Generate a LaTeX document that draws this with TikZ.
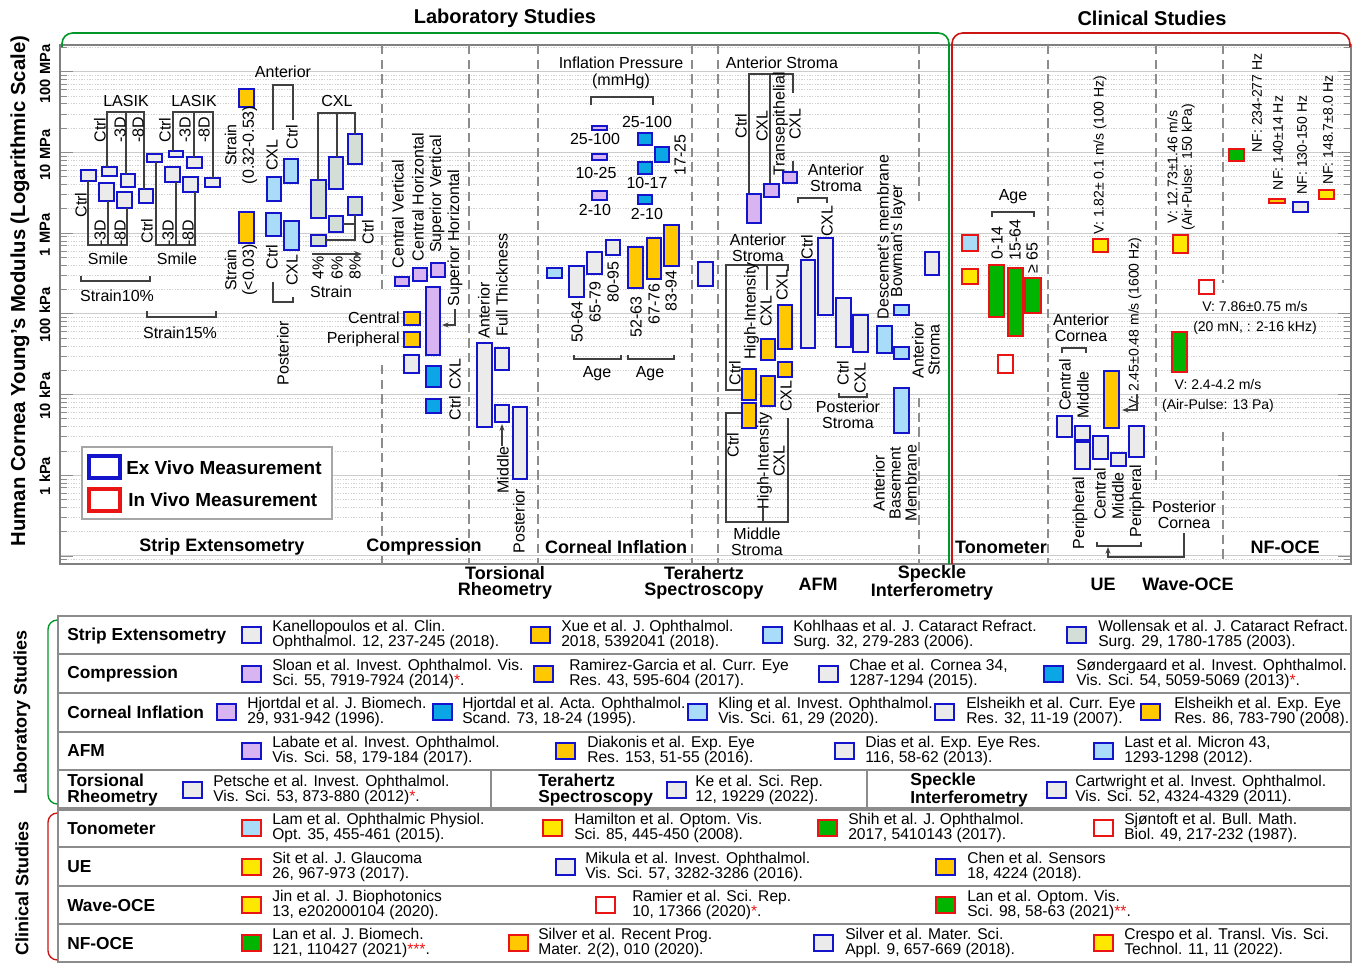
\documentclass[tikz,border=0pt]{standalone}
\usepackage{fontspec}
\setmainfont{Liberation Sans}
\usetikzlibrary{arrows.meta}
\definecolor{bblue}{RGB}{20,20,205}
\definecolor{rred}{RGB}{235,20,20}
\definecolor{cgray}{RGB}{235,235,235}
\definecolor{cgold}{RGB}{255,200,0}
\definecolor{clblue}{RGB}{168,220,248}
\definecolor{cgg}{RGB}{210,222,214}
\definecolor{clav}{RGB}{216,180,242}
\definecolor{cbb}{RGB}{10,166,230}
\definecolor{cgreen}{RGB}{0,180,0}
\definecolor{cyel}{RGB}{255,232,0}
\definecolor{labgreen}{RGB}{0,150,40}
\definecolor{clired}{RGB}{205,20,20}
\newcommand\bx[5]{\draw[#1] (#2,#3) rectangle (#4,#5);}
\newcommand\rl[4][]{\node[lbl,rotate=90,#1] (#2) at (#3) {#4};}
\newcommand\hl[4][]{\node[lbl,#1] (#2) at (#3) {#4};}
\newcommand\rs[1]{\textcolor{rred}{#1}}
\newcommand\ent[5]{\draw[#1] (#2,#3-8) rectangle (#2+19,#3+8); \node[ttx] (e#2x#3) at (#4,#3) {#5};}
\tikzset{
 gb/.style={draw=bblue,fill=cgray,line width=1.5pt},
 yb/.style={draw=bblue,fill=cgold,line width=1.5pt},
 lb/.style={draw=bblue,fill=clblue,line width=1.5pt},
 ggb/.style={draw=bblue,fill=cgg,line width=1.5pt},
 lvb/.style={draw=bblue,fill=clav,line width=1.5pt},
 bbb/.style={draw=bblue,fill=cbb,line width=1.5pt},
 lr/.style={draw=rred,fill=clblue,line width=1.5pt},
 yr/.style={draw=rred,fill=cyel,line width=1.5pt},
 grr/.style={draw=rred,fill=cgreen,line width=1.5pt},
 er/.style={draw=rred,fill=white,line width=1.5pt},
 orr/.style={draw=rred,fill=cgold,line width=1.5pt},
 lbl/.style={font=\fontsize{12}{13}\selectfont, inner sep=0pt, align=center},
 sml/.style={font=\fontsize{10.5}{12}\selectfont, inner sep=0pt, align=center},
 tny/.style={font=\fontsize{10.5}{11}\selectfont, inner sep=0pt},
 cat/.style={font=\fontsize{13.5}{12}\selectfont\bfseries, inner sep=0pt, align=center},
 tkl/.style={font=\fontsize{11}{12}\selectfont\bfseries, inner sep=0pt, rotate=90},
 brk/.style={draw=black!75, line width=0.8pt},
 dsh/.style={draw=black!45, line width=0.8pt, dash pattern=on 7pt off 4pt},
 mgrid/.style={draw=black!20, line width=0.7pt},
 ngrid/.style={draw=black!18, line width=0.5pt, dash pattern=on 1pt off 1pt},
 tck/.style={draw=black!45, line width=0.6pt},
 tline/.style={draw=black!45, line width=1.2pt},
 ttx/.style={font=\fontsize{11.7}{11.2}\selectfont, inner sep=0pt, anchor=west, align=left},
 rlab/.style={font=\fontsize{13}{11.5}\selectfont\bfseries, inner sep=0pt, anchor=west, align=left},
}
\begin{document}
\begin{tikzpicture}[x=0.75pt,y=-0.75pt]
\useasboundingbox (0,0) rectangle (1356,964);
% ---------------- grid
\begin{scope}
\clip (60,45) rectangle (1351,564);
\foreach \d in {1,...,8}{
 \pgfmathsetmacro\yd{475.2-(\d-3)*80.7}
 \draw[mgrid] (60,\yd) -- (1351,\yd);
 \draw[tck] (60,\yd) -- (73,\yd) (1338,\yd) -- (1351,\yd);
 \foreach \m in {2,...,9}{
  \pgfmathsetmacro\ym{\yd-log10(\m)*80.7}
  \draw[ngrid] (60,\ym) -- (1351,\ym);
  \draw[tck] (60,\ym) -- (67,\ym) (1344,\ym) -- (1351,\ym);
 }
}
\end{scope}
\draw[black!50, line width=0.9pt] (60,45) rectangle (1351,564);
% dashed separators
\draw[dsh] (382,45) -- (382,293) (382,365) -- (382,564);
\draw[dsh] (469,45) -- (469,564);
\draw[dsh] (538,45) -- (538,564);
\draw[dsh] (692,45) -- (692,564);
\draw[dsh] (718,45) -- (718,564);
\draw[dsh] (919,45) -- (919,205) (919,398) -- (919,564);
\draw[dsh] (1048,45) -- (1048,564);
\draw[dsh] (1156,45) -- (1156,482);
\draw[dsh] (1223,45) -- (1223,283) (1223,432) -- (1223,564);
% headers
\node[font=\fontsize{15}{17}\selectfont\bfseries, inner sep=0pt] (lab) at (505,18) {Laboratory Studies};
\node[font=\fontsize{15}{17}\selectfont\bfseries, inner sep=0pt] (cli) at (1152,18) {Clinical Studies};
\draw[labgreen, line width=1.2pt, rounded corners=8pt] (62,47) -- (62,33) -- (949,33) -- (949,564);
\draw[clired, line width=1.2pt, rounded corners=8pt] (952,564) -- (952,33) -- (1350,33) -- (1350,47);
% axis
\node[rotate=90, font=\fontsize{15.2}{17}\selectfont\bfseries, inner sep=0pt] (ytitle) at (20,291) {Human Cornea Young’s Modulus (Logarithmic Scale)};
\node[tkl] (k1) at (45,74) {100 MPa};
\node[tkl] (k2) at (45,155) {10 MPa};
\node[tkl] (k3) at (45,235) {1 MPa};
\node[tkl] (k4) at (45,315) {100 kPa};
\node[tkl] (k5) at (45,396) {10 kPa};
\node[tkl] (k6) at (45,476) {1 kPa};
% legend
\draw[draw=black!35, line width=1.6pt, fill=white] (82,447) rectangle (332,519);
\draw[bblue, line width=2.4pt] (89,456) rectangle (120,478);
\draw[rred, line width=2.4pt] (89,489) rectangle (120,511);
\node[font=\fontsize{14.2}{16}\selectfont\bfseries, inner sep=0pt, anchor=west] (lg1) at (126,468) {Ex Vivo Measurement};
\node[font=\fontsize{14.2}{16}\selectfont\bfseries, inner sep=0pt, anchor=west] (lg2) at (128,500) {In Vivo Measurement};
% category labels
\node[cat] (c1) at (222,547) {Strip Extensometry};
\node[cat] (c2) at (424,547) {Compression};
\node[cat] (c3) at (616,547) {Corneal Inflation};
\node[cat] (c4) at (1001,547) {Tonometer};
\node[cat] (c5) at (1285,547) {NF-OCE};
\node[cat] (c6) at (505,583) {Torsional\\Rheometry};
\node[cat] (c7) at (704,583) {Terahertz\\Spectroscopy};
\node[cat] (c8) at (818,584) {AFM};
\node[cat] (c9) at (932,583) {Speckle\\Interferometry};
\node[cat] (c10) at (1103,584) {UE};
\node[cat] (c11) at (1188,584) {Wave-OCE};
% ---------------- Strip extensometry
\bx{gb}{81}{170}{96}{181}
\bx{gb}{102}{167}{117}{176}
\bx{gb}{99}{183}{114}{201}
\bx{gb}{121}{174}{135}{187}
\bx{gb}{117}{192}{132}{208}
\bx{gb}{139}{189}{153}{203}
\bx{gb}{147}{154}{162}{162}
\bx{gb}{169}{151}{183}{157}
\bx{gb}{165}{167}{180}{182}
\bx{gb}{187}{157}{202}{168}
\bx{gb}{183}{177}{198}{192}
\bx{gb}{205}{178}{220}{187}
\draw[brk] (107,167)--(107,112)--(144,112)--(144,189) (126,112)--(126,174);
\draw[brk] (173,151)--(173,112)--(213,112)--(213,178) (194,112)--(194,157);
\draw[brk] (88,181)--(88,245)--(127,245)--(127,208) (108,201)--(108,245);
\draw[brk] (156,162)--(156,245)--(195,245)--(195,192) (176,182)--(176,245);
\draw[brk] (81,276)--(81,281)--(150,281)--(150,276);
\draw[brk] (147,311)--(147,317)--(216,317)--(216,311);
\hl{s1}{126,101}{LASIK}
\hl{s2}{194,101}{LASIK}
\hl{s3}{108,259}{Smile}
\hl{s4}{177,259}{Smile}
\hl{s5}{117,296}{Strain10\%}
\hl{s6}{180,333}{Strain15\%}
\rl{s7}{100,130}{Ctrl}
\rl{s8}{120,130}{-3D}
\rl{s9}{138,130}{-8D}
\rl{s10}{165,130}{Ctrl}
\rl{s11}{185,130}{-3D}
\rl{s12}{204,130}{-8D}
\rl{s13}{81,205}{Ctrl}
\rl{s14}{100,233}{-3D}
\rl{s15}{120,233}{-8D}
\rl{s16}{147,231}{Ctrl}
\rl{s17}{168,233}{-3D}
\rl{s18}{188,233}{-8D}
% Xue
\bx{yb}{239}{89}{254}{107}
\bx{yb}{239}{212}{254}{243}
\rl{x1}{241,145}{Strain\\(0.32-0.53)}
\rl{x2}{241,270}{Strain\\(<0.03)}
% Kohlhaas
\bx{lb}{267}{177}{281}{201}
\bx{lb}{284}{159}{298}{183}
\bx{lb}{266}{213}{281}{236}
\bx{lb}{284}{221}{299}{250}
\draw[brk] (273,130)--(273,85)--(293,85)--(293,120);
\draw[brk] (273,282)--(273,302)--(293,302)--(293,297);
\hl{k7}{283,72}{Anterior}
\rl{k8}{272,155}{CXL}
\rl{k9}{292,137}{Ctrl}
\rl{k10}{272,257}{Ctrl}
\rl{k11}{292,270}{CXL}
\rl{k12}{283,353}{Posterior}
% Wollensak
\bx{ggb}{311}{180}{326}{218}
\bx{ggb}{329}{157}{343}{189}
\bx{ggb}{348}{134}{362}{164}
\bx{ggb}{311}{235}{326}{246}
\bx{ggb}{329}{216}{343}{232}
\bx{ggb}{348}{197}{362}{215}
\draw[brk] (318,180)--(318,113)--(355,113)--(355,134) (337,113)--(337,157);
\draw[brk] (326,240)--(355,240)--(355,215) (343,224)--(355,224);
\draw[brk,-{Stealth[length=6pt]}] (312,254)--(362,254);
\hl{w1}{337,101}{CXL}
\rl{w2}{368,232}{Ctrl}
\rl{w3}{318,268}{4\%}
\rl{w4}{337,268}{6\%}
\rl{w5}{355,268}{8\%}
\hl{w6}{331,292}{Strain}
% ---------------- Compression
\bx{lvb}{395}{277}{409}{286}
\bx{lvb}{413}{268}{427}{281}
\bx{lvb}{431}{263}{445}{277}
\bx{lvb}{426}{287}{440}{355}
\bx{yb}{404}{312}{420}{325}
\bx{yb}{404}{332}{420}{347}
\bx{gb}{404}{355}{419}{373}
\bx{bbb}{426}{366}{441}{387}
\bx{bbb}{426}{399}{441}{413}
\rl{p1}{398,214}{Central Vertical}
\rl{p2}{418,197}{Central Horizontal}
\rl{p3}{437,194}{Superior Vertical}
\rl{p4}{455,238}{Superior Horizontal}
\draw[brk,-{Stealth[length=5pt]}] (455,309)--(455,325)--(442,325);
\hl[anchor=east]{p5}{400,318}{Central}
\hl[anchor=east]{p6}{400,339}{Peripheral}
\rl{p7}{455,374}{CXL}
\rl{p8}{455,408}{Ctrl}
% ---------------- Torsional
\bx{gb}{477}{343}{492}{427}
\bx{gb}{495}{348}{509}{370}
\bx{gb}{495}{405}{509}{422}
\bx{gb}{513}{407}{527}{479}
\rl{q1}{484,310}{Anterior}
\rl{q2}{502,285}{Full Thickness}
\rl{q3}{503,470}{Middle}
\rl{q4}{519,521}{Posterior}
\draw[brk,-{Stealth[length=5pt]}] (502,446)--(502,424);
% ---------------- Corneal inflation
\hl{i1}{621,73}{Inflation Pressure\\(mmHg)}
\draw[brk] (591,105)--(591,97)--(653,97)--(653,105);
\bx{lvb}{592}{126}{607}{130}
\bx{lvb}{592}{154}{607}{160}
\bx{lvb}{592}{191}{607}{200}
\hl{i2}{595,139}{25-100}
\hl{i3}{596,173}{10-25}
\hl{i4}{595,210}{2-10}
\bx{bbb}{638}{133}{652}{145}
\bx{bbb}{655}{147}{669}{162}
\bx{bbb}{638}{162}{652}{174}
\bx{bbb}{638}{195}{652}{204}
\hl{i5}{647,122}{25-100}
\rl{i6}{680,155}{17-25}
\hl{i7}{647,183}{10-17}
\hl{i8}{647,214}{2-10}
\bx{lb}{547}{268}{562}{278}
\bx{gb}{569}{266}{584}{297}
\bx{gb}{587}{252}{602}{274}
\bx{gb}{606}{240}{620}{255}
\bx{yb}{628}{247}{643}{288}
\bx{yb}{647}{238}{661}{279}
\bx{yb}{664}{225}{679}{266}
\rl{i9}{577,322}{50-64}
\rl{i10}{595,302}{65-79}
\rl{i11}{613,282}{80-95}
\rl{i12}{636,317}{52-63}
\rl{i13}{654,304}{67-76}
\rl{i14}{671,291}{83-94}
\draw[brk] (574,355)--(574,359)--(621,359)--(621,355);
\draw[brk] (628,355)--(628,359)--(674,359)--(674,355);
\hl{i15}{597,374}{Age}
\hl{i16}{650,374}{Age}
% ---------------- Terahertz
\bx{gb}{698}{262}{713}{286}
% ---------------- AFM
\hl{a1}{782,63}{Anterior Stroma}
\draw[brk] (749,194)--(749,74)--(793,74)--(793,93) (770,74)--(770,184) (793,161)--(793,172);
\bx{lvb}{747}{194}{761}{223}
\bx{lvb}{764}{184}{779}{197}
\bx{lvb}{783}{172}{797}{183}
\rl{a2}{741,126}{Ctrl}
\rl{a3}{762,126}{CXL}
\rl[font=\fontsize{12}{12}\selectfont]{a4}{787,124}{Transepithelial\\CXL}
\hl[font=\fontsize{12}{12}\selectfont]{a5}{758,248}{Anterior\\Stroma}
\draw[brk] (742,390)--(726,390)--(726,265)--(788,265)--(788,271) (767,265)--(767,290);
\draw[brk] (742,413)--(726,413)--(726,522)--(788,522)--(788,418) (763,508)--(763,522);
\bx{yb}{778}{305}{792}{349}
\bx{yb}{761}{339}{775}{360}
\bx{yb}{778}{362}{792}{377}
\bx{yb}{742}{369}{756}{400}
\bx{yb}{761}{376}{775}{406}
\bx{yb}{742}{403}{756}{428}
\rl{a6}{735,373}{Ctrl}
\rl[font=\fontsize{12}{12}\selectfont]{a7}{758,311}{High-Intensity\\CXL}
\rl{a8}{782,285}{CXL}
\rl{a9}{733,445}{Ctrl}
\rl[font=\fontsize{12}{12}\selectfont]{a10}{771,461}{High-Intensity\\CXL}
\rl{a11}{786,396}{CXL}
\hl[font=\fontsize{12}{12}\selectfont]{a12}{757,542}{Middle\\Stroma}
\bx{gb}{801}{260}{815}{348}
\bx{gb}{818}{238}{833}{315}
\bx{gb}{836}{298}{851}{347}
\bx{gb}{853}{315}{868}{352}
\hl[font=\fontsize{12}{12}\selectfont]{a13}{836,178}{Anterior\\Stroma}
\draw[brk] (798,203)--(798,198)--(827,198)--(827,203);
\rl{a14}{807,247}{Ctrl}
\rl{a15}{827,221}{CXL}
\rl{a16}{843,373}{Ctrl}
\rl{a17}{860,378}{CXL}
\draw[brk] (839,393)--(839,397)--(867,397)--(867,393);
\hl[font=\fontsize{12}{12}\selectfont]{a18}{848,415}{Posterior\\Stroma}
\bx{lb}{877}{326}{892}{353}
\bx{lb}{894}{305}{909}{315}
\bx{lb}{894}{347}{909}{359}
\bx{lb}{894}{388}{909}{433}
\rl{a19}{883,237}{Descemet’s membrane}
\rl{a20}{898,241}{Bowman’s layer}
\rl[font=\fontsize{12}{12}\selectfont]{a21}{926,350}{Anterior\\Stroma}
\rl[font=\fontsize{12}{12}\selectfont]{a22}{895,483}{Anterior\\Basement\\Membrane}
% ---------------- Speckle
\bx{gb}{925}{252}{939}{275}
% ---------------- Tonometer
\bx{lr}{962}{235}{978}{251}
\bx{yr}{962}{269}{978}{284}
\bx{grr}{989}{265}{1004}{317}
\bx{grr}{1008}{268}{1023}{336}
\bx{grr}{1025}{278}{1041}{313}
\bx{er}{998}{355}{1013}{373}
\rl{o1}{997,243}{0-14}
\rl{o2}{1015,240}{15-64}
\rl{o3}{1032,258}{≥ 65}
\hl{o4}{1013,197}{Age}
\draw[brk] (992,217)--(992,212)--(1034,212)--(1034,217);
% ---------------- UE
\bx{yr}{1093}{239}{1108}{252}
\node[sml,rotate=90] (u1) at (1100,155) {V: 1.82± 0.1 m/s (100 Hz)};
\bx{yb}{1104}{371}{1119}{428}
\node[sml,rotate=90] (u2) at (1135,323) {V: 2.45±0.48 m/s (1600 Hz)};
\draw[brk,-{Stealth[length=5pt]}] (1137,394)--(1137,410)--(1122,410);
\bx{gb}{1057}{416}{1072}{437}
\bx{gb}{1075}{426}{1090}{440}
\bx{gb}{1075}{442}{1090}{469}
\bx{gb}{1093}{436}{1108}{459}
\bx{gb}{1111}{453}{1126}{466}
\bx{gb}{1129}{426}{1144}{457}
\hl[font=\fontsize{12}{12}\selectfont]{u3}{1081,328}{Anterior\\Cornea}
\draw[brk] (1062,353)--(1062,348)--(1086,348)--(1086,353);
\rl{u4}{1065,385}{Central}
\rl{u5}{1083,395}{Middle}
\rl{u6}{1080,513}{Peripheral}
\rl{u7}{1100,494}{Central}
\rl{u8}{1118,496}{Middle}
\rl{u9}{1137,501}{Peripheral}
\draw[brk] (1097,542)--(1097,546)--(1141,546)--(1141,542);
\draw[brk,-{Stealth[length=5pt]}] (1184,533)--(1184,557)--(1108,557)--(1108,547);
\hl[font=\fontsize{12}{12}\selectfont]{u10}{1184,515}{Posterior\\Cornea}
% ---------------- Wave-OCE
\bx{yr}{1173}{235}{1188}{253}
\node[sml,rotate=90,font=\fontsize{10.5}{11}\selectfont] (v1) at (1181,167) {V: 12.73±1.46 m/s\\(Air-Pulse: 150 kPa)};
\bx{er}{1199}{280}{1214}{294}
\node[sml] (v2) at (1255,318) {V: 7.86±0.75 m/s\\[3pt](20 mN, : 2-16 kHz)};
\bx{grr}{1172}{332}{1187}{372}
\node[sml] (v3) at (1218,396) {V: 2.4-4.2 m/s\\[3pt](Air-Pulse: 13 Pa)};
% ---------------- NF-OCE
\bx{grr}{1229}{149}{1244}{161}
\node[tny,rotate=90] (n1) at (1257,103) {NF: 234-277 Hz};
\bx{orr}{1269}{199}{1285}{203}
\node[tny,rotate=90] (n2) at (1278,143) {NF: 140±14 Hz};
\bx{gb}{1293}{202}{1308}{212}
\node[tny,rotate=90] (n3) at (1302,145) {NF: 130-150 Hz};
\bx{yr}{1319}{190}{1334}{199}
\node[tny,rotate=90] (n4) at (1328,130) {NF: 148.7±8.0 Hz};
% ================= TABLE
\draw[tline] (58,616) rectangle (1351,962);
\foreach \yy in {654,693,732,770,847,886,924} {\draw[tline] (58,\yy) -- (1351,\yy);}
\draw[draw=black!45, line width=2.4pt] (58,809) -- (1351,809);
\draw[tline] (491,770) -- (491,809) (867,770) -- (867,809);
\draw[labgreen, line width=1pt, rounded corners=7pt] (57,620) -- (48,620) -- (48,804) -- (57,804);
\draw[clired, line width=1pt, rounded corners=7pt] (57,813) -- (48,813) -- (48,960) -- (57,960);
\node[rotate=90, font=\fontsize{13.5}{15}\selectfont\bfseries, inner sep=0pt] (tl1) at (22,712) {Laboratory Studies};
\node[rotate=90, font=\fontsize{13.5}{15}\selectfont\bfseries, inner sep=0pt] (tl2) at (22,888) {Clinical Studies};
% row labels
\node[rlab] (r1) at (67,636) {Strip Extensometry};
\node[rlab] (r2) at (67,674) {Compression};
\node[rlab] (r3) at (67,712) {Corneal Inflation};
\node[rlab] (r4) at (67,751) {AFM};
\node[rlab] (r5) at (67,790) {Torsional\\Rheometry};
\node[rlab] (r5b) at (538,790) {Terahertz\\Spectroscopy};
\node[rlab] (r5c) at (910,790) {Speckle\\Interferometry};
\node[rlab] (r6) at (67,829) {Tonometer};
\node[rlab] (r7) at (67,867) {UE};
\node[rlab] (r8) at (67,906) {Wave-OCE};
\node[rlab] (r9) at (67,944) {NF-OCE};
% entries
\ent{gb}{242}{635}{272}{Kanellopoulos et al. Clin.\\Ophthalmol. 12, 237-245 (2018).}
\ent{yb}{531}{635}{561}{Xue et al. J. Ophthalmol.\\2018, 5392041 (2018).}
\ent{lb}{763}{635}{793}{Kohlhaas et al. J. Cataract Refract.\\Surg. 32, 279-283 (2006).}
\ent{ggb}{1067}{635}{1098}{Wollensak et al. J. Cataract Refract.\\Surg. 29, 1780-1785 (2003).}
\ent{lvb}{242}{674}{272}{Sloan et al. Invest. Ophthalmol. Vis.\\Sci. 55, 7919-7924 (2014)\rs{*}.}
\ent{yb}{534}{674}{569}{Ramirez-Garcia et al. Curr. Eye\\Res. 43, 595-604 (2017).}
\ent{gb}{819}{674}{849}{Chae et al. Cornea 34,\\1287-1294 (2015).}
\ent{bbb}{1044}{674}{1076}{Søndergaard et al. Invest. Ophthalmol.\\Vis. Sci. 54, 5059-5069 (2013)\rs{*}.}
\ent{lvb}{217}{712}{247}{Hjortdal et al. J. Biomech.\\29, 931-942 (1996).}
\ent{bbb}{433}{712}{462}{Hjortdal et al. Acta. Ophthalmol.\\Scand. 73, 18-24 (1995).}
\ent{lb}{688}{712}{718}{Kling et al. Invest. Ophthalmol.\\Vis. Sci. 61, 29 (2020).}
\ent{gb}{935}{712}{966}{Elsheikh et al. Curr. Eye\\Res. 32, 11-19 (2007).}
\ent{yb}{1141}{712}{1174}{Elsheikh et al. Exp. Eye\\Res. 86, 783-790 (2008).}
\ent{lvb}{242}{751}{272}{Labate et al. Invest. Ophthalmol.\\Vis. Sci. 58, 179-184 (2017).}
\ent{yb}{556}{751}{587}{Diakonis et al. Exp. Eye\\Res. 153, 51-55 (2016).}
\ent{gb}{835}{751}{865}{Dias et al. Exp. Eye Res.\\116, 58-62 (2013).}
\ent{lb}{1094}{751}{1124}{Last et al. Micron 43,\\1293-1298 (2012).}
\ent{gb}{183}{790}{213}{Petsche et al. Invest. Ophthalmol.\\Vis. Sci. 53, 873-880 (2012)\rs{*}.}
\ent{gb}{667}{790}{695}{Ke et al. Sci. Rep.\\12, 19229 (2022).}
\ent{gb}{1047}{790}{1075}{Cartwright et al. Invest. Ophthalmol.\\Vis. Sci. 52, 4324-4329 (2011).}
\ent{lr}{242}{828}{272}{Lam et al. Ophthalmic Physiol.\\Opt. 35, 455-461 (2015).}
\ent{yr}{543}{828}{574}{Hamilton et al. Optom. Vis.\\Sci. 85, 445-450 (2008).}
\ent{grr}{818}{828}{848}{Shih et al. J. Ophthalmol.\\2017, 5410143 (2017).}
\ent{er}{1094}{828}{1124}{Sjøntoft et al. Bull. Math.\\Biol. 49, 217-232 (1987).}
\ent{yr}{242}{867}{272}{Sit et al. J. Glaucoma\\26, 967-973 (2017).}
\ent{gb}{556}{867}{585}{Mikula et al. Invest. Ophthalmol.\\Vis. Sci. 57, 3282-3286 (2016).}
\ent{yb}{936}{867}{967}{Chen et al. Sensors\\18, 4224 (2018).}
\ent{yr}{242}{905}{272}{Jin et al. J. Biophotonics\\13, e202000104 (2020).}
\ent{er}{596}{905}{632}{Ramier et al. Sci. Rep.\\10, 17366 (2020)\rs{*}.}
\ent{grr}{936}{905}{967}{Lan et al. Optom. Vis.\\Sci. 98, 58-63 (2021)\rs{**}.}
\ent{grr}{242}{943}{272}{Lan et al. J. Biomech.\\121, 110427 (2021)\rs{***}.}
\ent{orr}{509}{943}{538}{Silver et al. Recent Prog.\\Mater. 2(2), 010 (2020).}
\ent{gb}{814}{943}{845}{Silver et al. Mater. Sci.\\Appl. 9, 657-669 (2018).}
\ent{yr}{1094}{943}{1124}{Crespo et al. Transl. Vis. Sci.\\Technol. 11, 11 (2022).}
\end{tikzpicture}
\end{document}
